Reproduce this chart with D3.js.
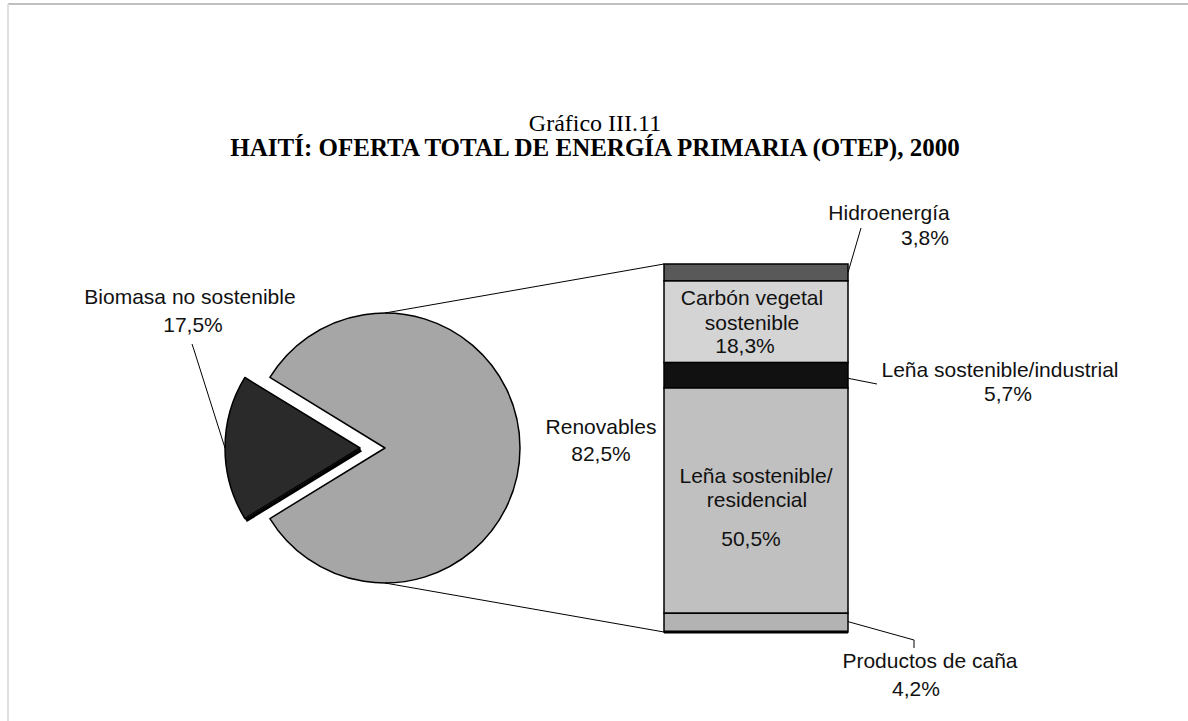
<!DOCTYPE html>
<html>
<head>
<meta charset="utf-8">
<script src="https://cdn.jsdelivr.net/npm/d3@7"></script>
<style>
  body { margin: 0; background: #fff; }
  svg { display: block; }
  .lbl { font-family: "Liberation Sans", Arial, sans-serif; font-size: 21px; fill: #111; }
  .ttl { font-family: "Liberation Serif", "Times New Roman", serif; font-size: 24px; fill: #000; }
</style>
</head>
<body>
<div class="chart"></div>
<script>
const width = 1188;
const height = 721;

// pie data (OTEP total)
const pieNames = ['Renovables', 'Biomasa no sostenible'];
const pieValues = [82.5, 17.5];
const pieLabels = ['82,5%', '17,5%'];
const pieColors = ['#a6a6a6', '#2a2a2a'];

// bar data (break-down of renewables, top to bottom)
const barNames = ['Hidroenergía', 'Carbón vegetal sostenible', 'Leña sostenible/industrial', 'Leña sostenible/residencial', 'Productos de caña'];
const barValues = [3.8, 18.3, 5.7, 50.5, 4.2];
const barLabels = ['3,8%', '18,3%', '5,7%', '50,5%', '4,2%'];
const barColors = ['#595959', '#d4d4d4', '#111111', '#c0c0c0', '#b3b3b3'];

const svg = d3.select('.chart').append('svg')
  .attr('width', width)
  .attr('height', height);

// page frame
svg.append('line').attr('x1', 8).attr('x2', width).attr('y1', 4).attr('y2', 4)
  .attr('stroke', '#c0c0c0').attr('stroke-width', 2);
svg.append('line').attr('x1', 8).attr('x2', 8).attr('y1', 4).attr('y2', height)
  .attr('stroke', '#e0e0e0').attr('stroke-width', 2);

// titles
svg.append('text').attr('class', 'ttl').attr('x', 595).attr('y', 131)
  .attr('text-anchor', 'middle').text('Gráfico III.11');
svg.append('text').attr('class', 'ttl').attr('x', 595).attr('y', 156)
  .attr('text-anchor', 'middle').style('font-weight', 'bold').style('font-size', '25px')
  .text('HAITÍ: OFERTA TOTAL DE ENERGÍA PRIMARIA (OTEP), 2000');

// ---- pie ----
const cx = 385, cy = 448, r = 135, explode = 25;
const share = pieValues[1] / d3.sum(pieValues);
const start = 1.5 * Math.PI - 2 * Math.PI * (1 - share / 2);

const pie = d3.pie().sort(null).startAngle(start).endAngle(start + 2 * Math.PI);
const arcs = pie(pieValues);
const arc = d3.arc().innerRadius(0).outerRadius(r);

const pieG = svg.append('g').attr('transform', `translate(${cx},${cy})`);

const offset = d => {
  if (d.index === 0) return [0, 0];
  const a = (d.startAngle + d.endAngle) / 2;
  return [Math.sin(a) * explode, -Math.cos(a) * explode];
};

// shadow line under the exploded slice
const bio = arcs[1];
const bo = offset(bio);
pieG.append('line')
  .attr('x1', bo[0] + 1).attr('y1', bo[1] + 2)
  .attr('x2', bo[0] + Math.sin(bio.startAngle) * r + 1)
  .attr('y2', bo[1] - Math.cos(bio.startAngle) * r + 2)
  .attr('stroke', '#000').attr('stroke-width', 3.5);

pieG.selectAll('path.slice')
  .data(arcs)
  .enter().append('path')
  .attr('class', 'slice')
  .attr('transform', d => `translate(${offset(d)})`)
  .attr('d', arc)
  .attr('fill', (d, i) => pieColors[i])
  .attr('stroke', '#000')
  .attr('stroke-width', 1.5)
  .attr('stroke-linejoin', 'round');

// pie labels
svg.append('text').attr('class', 'lbl').attr('x', 601).attr('y', 434)
  .attr('text-anchor', 'middle').text(pieNames[0]);
svg.append('text').attr('class', 'lbl').attr('x', 601).attr('y', 461)
  .attr('text-anchor', 'middle').text(pieLabels[0]);
svg.append('text').attr('class', 'lbl').attr('x', 190).attr('y', 304)
  .attr('text-anchor', 'middle').text(pieNames[1]);
svg.append('text').attr('class', 'lbl').attr('x', 193).attr('y', 332)
  .attr('text-anchor', 'middle').text(pieLabels[1]);
// leader for biomasa
svg.append('polyline')
  .attr('points', [[192, 344], [194, 350], [cx + bo[0] - r, cy]].map(p => p.join(',')).join(' '))
  .attr('fill', 'none').attr('stroke', '#000').attr('stroke-width', 1);

// ---- bar ----
const barX = 664, barW = 184, barTop = 264, barBottom = 632;
const y = d3.scaleLinear().domain([0, d3.sum(barValues)]).range([barTop, barBottom]);
const cum = barValues.map((v, i) => d3.sum(barValues.slice(0, i)));

// connector lines pie -> bar
svg.append('line').attr('x1', cx).attr('y1', cy - r).attr('x2', barX).attr('y2', y(0))
  .attr('stroke', '#000').attr('stroke-width', 1);
svg.append('line').attr('x1', cx).attr('y1', cy + r).attr('x2', barX).attr('y2', y.range()[1])
  .attr('stroke', '#000').attr('stroke-width', 1);

svg.selectAll('rect.seg')
  .data(barValues)
  .enter().append('rect')
  .attr('class', 'seg')
  .attr('x', barX)
  .attr('y', (d, i) => y(cum[i]))
  .attr('width', barW)
  .attr('height', (d, i) => y(cum[i] + d) - y(cum[i]))
  .attr('fill', (d, i) => barColors[i])
  .attr('stroke', '#000')
  .attr('stroke-width', 1.5);

// thicker bottom edge
svg.append('line').attr('x1', barX).attr('x2', barX + barW)
  .attr('y1', barBottom).attr('y2', barBottom)
  .attr('stroke', '#000').attr('stroke-width', 3);

const mid = i => y(cum[i] + barValues[i] / 2);

// inside labels: [text, x, baseline offset from segment top]
const inner = [
  {i: 1, rows: [['Carbón vegetal', 752, 24], ['sostenible', 752, 49], [barLabels[1], 745, 72]]},
  {i: 3, rows: [['Leña sostenible/', 756, 95], ['residencial', 757, 119], [barLabels[3], 751, 158]]}
];
inner.forEach(b => {
  b.rows.forEach(([t, xx, dy]) => {
    svg.append('text').attr('class', 'lbl').attr('x', xx).attr('y', y(cum[b.i]) + dy)
      .attr('text-anchor', 'middle').text(t);
  });
});

// outside labels with leaders
const right = barX + barW;
// Hidroenergía
svg.append('line').attr('x1', right).attr('y1', mid(0)).attr('x2', 861).attr('y2', 228)
  .attr('stroke', '#000').attr('stroke-width', 1);
svg.append('text').attr('class', 'lbl').attr('x', 889).attr('y', 220)
  .attr('text-anchor', 'middle').text(barNames[0]);
svg.append('text').attr('class', 'lbl').attr('x', 925).attr('y', 245)
  .attr('text-anchor', 'middle').text(barLabels[0]);
// Leña industrial
svg.append('line').attr('x1', right).attr('y1', mid(2) + 3).attr('x2', 877).attr('y2', 384)
  .attr('stroke', '#000').attr('stroke-width', 1);
svg.append('text').attr('class', 'lbl').attr('x', 1000).attr('y', 377)
  .attr('text-anchor', 'middle').text(barNames[2]);
svg.append('text').attr('class', 'lbl').attr('x', 1008).attr('y', 401)
  .attr('text-anchor', 'middle').text(barLabels[2]);
// Productos de caña
svg.append('polyline')
  .attr('points', [[right, mid(4) - 1], [914, 640], [914, 648]].map(p => p.join(',')).join(' '))
  .attr('fill', 'none').attr('stroke', '#000').attr('stroke-width', 1);
svg.append('text').attr('class', 'lbl').attr('x', 930).attr('y', 668)
  .attr('text-anchor', 'middle').text(barNames[4]);
svg.append('text').attr('class', 'lbl').attr('x', 916).attr('y', 696)
  .attr('text-anchor', 'middle').text(barLabels[4]);
</script>
</body>
</html>
